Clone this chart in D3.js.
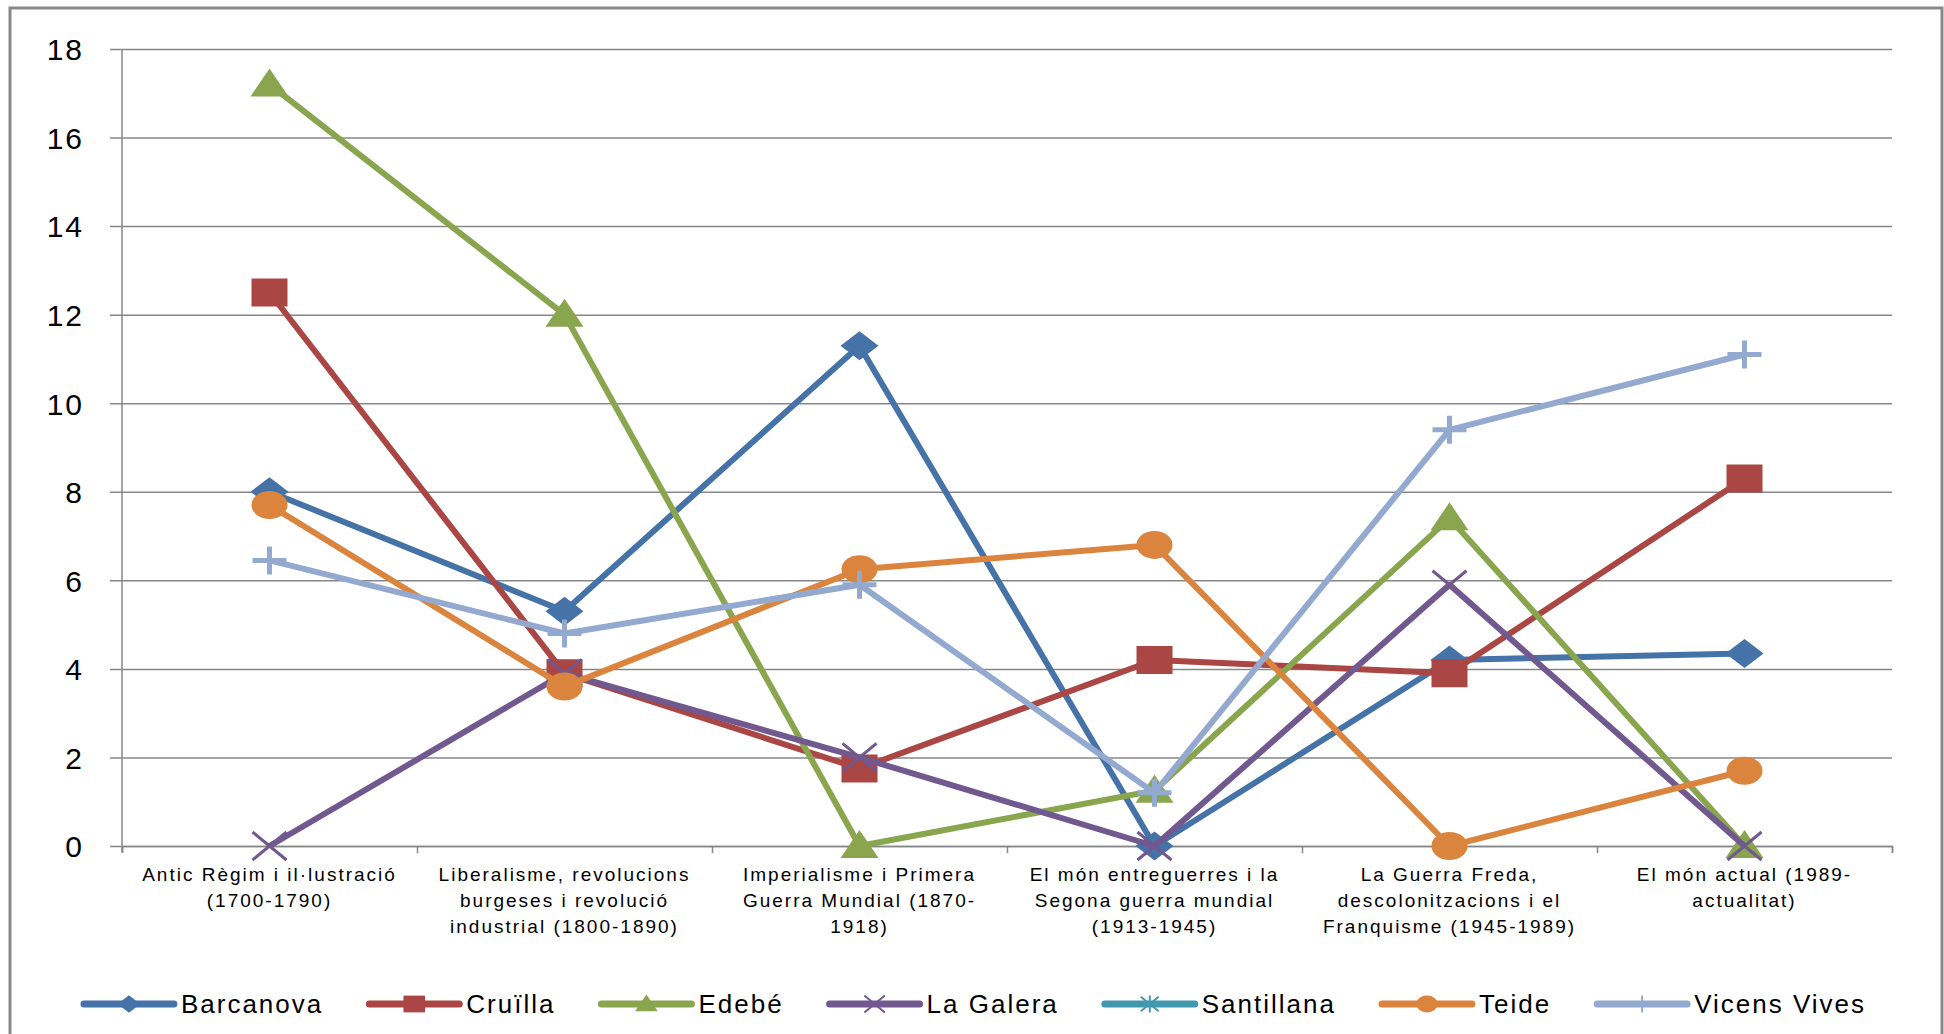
<!DOCTYPE html>
<html>
<head>
<meta charset="utf-8">
<script src="https://cdn.jsdelivr.net/npm/d3@7"></script>
<style>
  body { margin: 0; background: #fff; }
  svg text { font-family: "Liberation Sans", Arial, sans-serif; fill: #000; }
</style>
</head>
<body>
<div id="chart"></div>
<script>
// data
var categories = [
    ["Antic Règim i il·lustració", "(1700-1790)"],
    ["Liberalisme, revolucions", "burgeses i revolució", "industrial (1800-1890)"],
    ["Imperialisme i Primera", "Guerra Mundial (1870-", "1918)"],
    ["El món entreguerres i la", "Segona guerra mundial", "(1913-1945)"],
    ["La Guerra Freda,", "descolonitzacions i el", "Franquisme (1945-1989)"],
    ["El món actual (1989-", "actualitat)"]
];
var seriesNames = ["Barcanova", "Cruïlla", "Edebé", "La Galera", "Santillana", "Teide", "Vicens Vives"];
var barcanova   = [8.0, 5.3, 11.3, 0, 4.2, 4.35];
var cruilla     = [12.5, 3.9, 1.75, 4.2, 3.9, 8.3];
var edebe       = [17.2, 12.0, 0, 1.25, 7.4, 0];
var laGalera    = [0, 3.9, 2.0, 0, 5.9, 0];
var santillana  = [null, null, null, null, null, null];
var teide       = [7.7, 3.6, 6.25, 6.8, 0, 1.7];
var vicensVives = [6.45, 4.8, 5.9, 1.2, 9.4, 11.1];
var yTicks = [0, 2, 4, 6, 8, 10, 12, 14, 16, 18];

function linechart() {
    var seriesValues = [barcanova, cruilla, edebe, laGalera, santillana, teide, vicensVives];
    var colors = ["#4572A7", "#AA4643", "#89A54E", "#71588F", "#4198AF", "#DB843D", "#93A9CF"];
    var markers = ["diamond", "square", "triangle", "x", "star", "circle", "plus"];

    var W = 1944, H = 1034;
    var margin = {left: 122, right: 1892, top: 49, bottom: 846};

    var svg = d3.select("#chart").append("svg")
        .attr("width", W)
        .attr("height", H);

    svg.append("rect")
        .attr("x", 10).attr("y", 8)
        .attr("width", 1932).attr("height", 1060)
        .attr("fill", "#fff")
        .attr("stroke", "#898989")
        .attr("stroke-width", 3);

    var y = d3.scaleLinear().domain([0, 18]).range([margin.bottom, margin.top]);
    var x = d3.scaleBand().domain(d3.range(categories.length)).range([margin.left, margin.right]);
    var edge = d3.scaleLinear().domain([0, categories.length]).range([margin.left, margin.right]);

    // y axis + gridlines
    var yAxis = svg.append("g")
        .attr("transform", "translate(" + margin.left + ",0)")
        .call(d3.axisLeft(y).tickValues(yTicks).tickSize(0).tickPadding(38));
    yAxis.select(".domain").remove();
    yAxis.selectAll(".tick line")
        .attr("x1", -12).attr("x2", margin.right - margin.left)
        .attr("stroke", "#878787").attr("stroke-width", 1.5);
    yAxis.selectAll(".tick text")
        .style("font-size", "30px")
        .style("letter-spacing", "2px")
        .attr("dy", "0.36em");

    svg.append("line")
        .attr("x1", margin.left).attr("x2", margin.left)
        .attr("y1", margin.top).attr("y2", margin.bottom + 6)
        .attr("stroke", "#878787").attr("stroke-width", 1.5);

    // x axis
    var xAxis = svg.append("g")
        .attr("transform", "translate(0," + margin.bottom + ")")
        .call(d3.axisBottom(edge).ticks(categories.length).tickFormat("").tickSize(7));
    xAxis.select(".domain").attr("stroke", "#878787").attr("stroke-width", 1.5);
    xAxis.selectAll(".tick line").attr("stroke", "#878787").attr("stroke-width", 1.5);

    var labels = svg.append("g").selectAll("text")
        .data(categories)
        .enter().append("text")
        .attr("text-anchor", "middle")
        .style("font-size", "19px")
        .style("letter-spacing", "2px")
        .attr("transform", function(d, i) { return "translate(" + (x(i) + x.bandwidth() / 2) + ",881)"; });
    labels.selectAll("tspan")
        .data(function(d) { return d; })
        .enter().append("tspan")
        .attr("x", 0)
        .attr("y", function(d, i) { return i * 26; })
        .text(function(d) { return d; });

    // markers (wider than tall, like the original)
    function markerPath(type, s) {
        var w = 19 * s, h = 14.5 * s;
        switch (type) {
            case "diamond": return "M0," + (-h) + "L" + w + ",0L0," + h + "L" + (-w) + ",0Z";
            case "square": return "M" + (-18 * s) + "," + (-14 * s) + "h" + (36 * s) + "v" + (28 * s) + "h" + (-36 * s) + "Z";
            case "triangle": return "M0," + (-16 * s) + "L" + w + "," + (12 * s) + "L" + (-w) + "," + (12 * s) + "Z";
            case "circle": return "M" + (-18 * s) + ",0a" + (18 * s) + "," + (14 * s) + " 0 1,0 " + (36 * s) + ",0a" + (18 * s) + "," + (14 * s) + " 0 1,0 " + (-36 * s) + ",0Z";
            case "x": return "M" + (-17 * s) + "," + (-14 * s) + "L" + (17 * s) + "," + (14 * s) + "M" + (17 * s) + "," + (-14 * s) + "L" + (-17 * s) + "," + (14 * s);
            case "plus": return "M" + (-17 * s) + ",0H" + (17 * s) + "M0," + (-14 * s) + "V" + (14 * s);
            case "star": return "M" + (-15 * s) + "," + (-12 * s) + "L" + (15 * s) + "," + (12 * s) + "M" + (15 * s) + "," + (-12 * s) + "L" + (-15 * s) + "," + (12 * s) + "M0," + (-14 * s) + "V" + (14 * s);
        }
    }
    function isStroked(type) { return type == "x" || type == "plus" || type == "star"; }

    var line = d3.line()
        .defined(function(d) { return d != null; })
        .x(function(d, i) { return x(i) + x.bandwidth() / 2; })
        .y(function(d) { return y(d); });

    seriesValues.forEach(function(vals, k) {
        var g = svg.append("g");
        g.append("path")
            .attr("d", line(vals))
            .attr("fill", "none")
            .attr("stroke", colors[k])
            .attr("stroke-width", 6)
            .attr("stroke-linejoin", "round");
        g.selectAll("path.mk")
            .data(vals.map(function(v, i) { return {v: v, i: i}; }).filter(function(d) { return d.v != null; }))
            .enter().append("path")
            .attr("class", "mk")
            .attr("transform", function(d) { return "translate(" + (x(d.i) + x.bandwidth() / 2) + "," + y(d.v) + ")"; })
            .attr("d", markerPath(markers[k], 1))
            .attr("fill", isStroked(markers[k]) ? "none" : colors[k])
            .attr("stroke", isStroked(markers[k]) ? colors[k] : "none")
            .attr("stroke-width", markers[k] == "plus" ? 5 : 3);
    });

    // legend
    var legend = svg.append("g").attr("transform", "translate(0,1004)");
    var lx = 0;
    var items = [];
    seriesNames.forEach(function(name, k) {
        var it = legend.append("g");
        it.append("line")
            .attr("x1", 0).attr("x2", 90)
            .attr("stroke", colors[k]).attr("stroke-width", 7)
            .attr("stroke-linecap", "round");
        it.append("path")
            .attr("transform", "translate(45,0)")
            .attr("d", markerPath(markers[k], 0.6))
            .attr("fill", isStroked(markers[k]) ? "none" : colors[k])
            .attr("stroke", isStroked(markers[k]) ? colors[k] : "none")
            .attr("stroke-width", 2);
        var t = it.append("text")
            .attr("x", 97)
            .attr("dy", "0.36em")
            .style("font-size", "26px")
            .style("letter-spacing", "2px")
            .text(name);
        var w = 97 + t.node().getComputedTextLength();
        items.push({g: it, x: lx});
        lx += w + 46;
    });
    var total = lx - 46;
    var start = 975 - total / 2;
    items.forEach(function(d) { d.g.attr("transform", "translate(" + (start + d.x) + ",0)"); });
}
linechart();
</script>
</body>
</html>
